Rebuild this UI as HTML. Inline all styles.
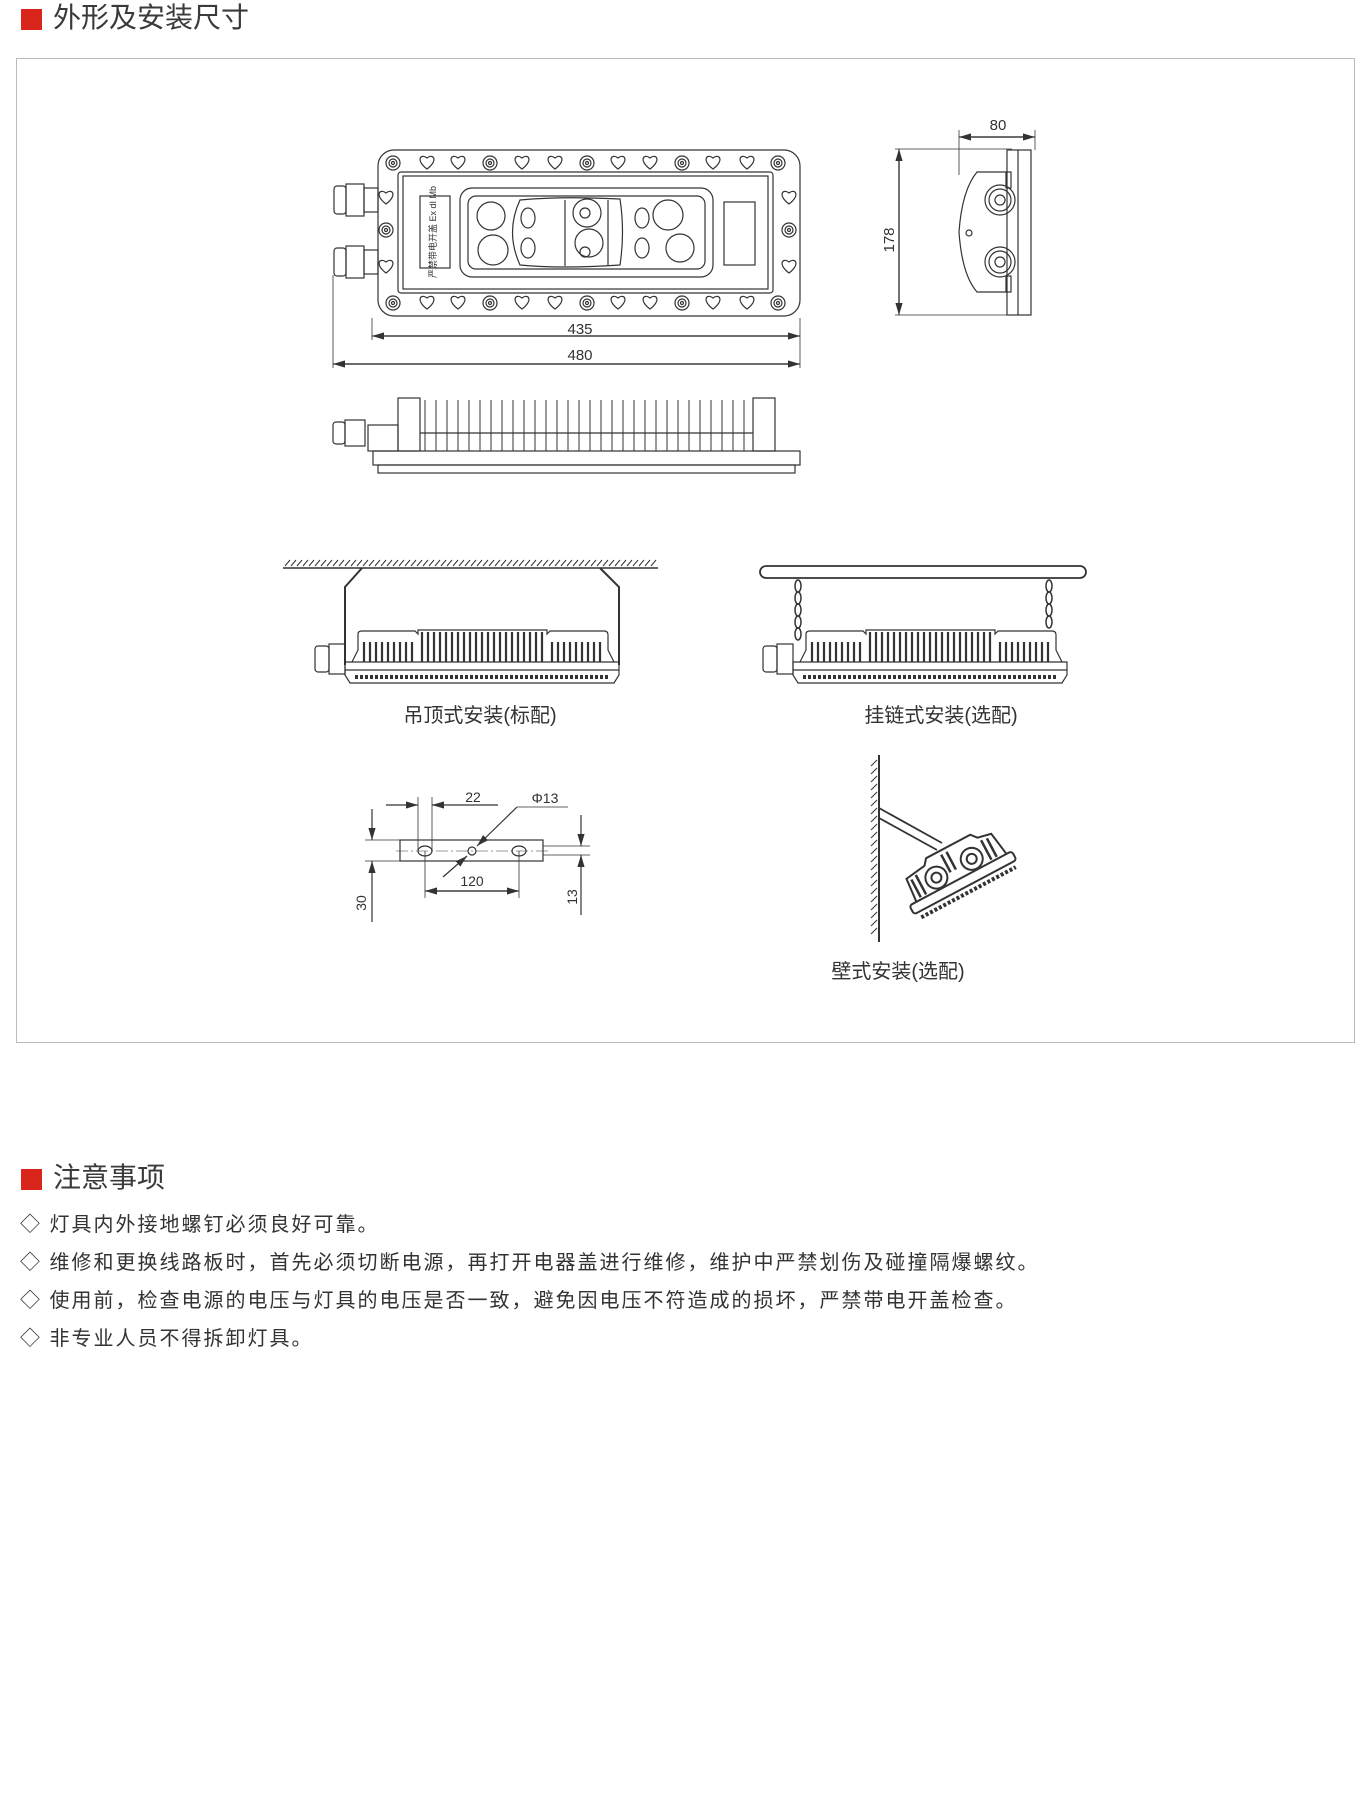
<!DOCTYPE html>
<html><head><meta charset="utf-8">
<style>
html,body{margin:0;padding:0;background:#fff;}
body{width:1371px;height:1799px;position:relative;overflow:hidden;font-family:"Liberation Sans","Noto Sans CJK SC",sans-serif;}
.sq{position:absolute;background:#d9251c;}
.h{position:absolute;font-size:28px;color:#3a3a3a;line-height:1;}
.box{position:absolute;left:16px;top:58px;width:1339px;height:985px;border:1px solid #bbb;box-sizing:border-box;}
.ln{position:absolute;left:20px;font-size:20px;color:#333;letter-spacing:2px;line-height:1;white-space:nowrap;}
svg{position:absolute;left:0;top:0;}
</style></head><body>
<div class="sq" style="left:21px;top:9px;width:21px;height:21px;"></div>
<div class="h" style="left:53px;top:4px;">外形及安装尺寸</div>
<div class="box"></div>

<svg width="1371" height="1100" viewBox="0 0 1371 1100" fill="none" stroke="#333" stroke-width="1.2" font-family="Liberation Sans, Noto Sans CJK SC, sans-serif">
<defs>
<marker id="a" markerWidth="10" markerHeight="6" refX="10" refY="3" orient="auto"><path d="M0,0 L10,3 L0,6z" fill="#333" stroke="none"/></marker>
<g id="heart"><path d="M0,6 C-12,-3 -6,-10 0,-5 C6,-10 12,-3 0,6z"/></g>
<g id="screw"><circle r="7"/><circle r="4"/><circle r="1.5"/></g>
<g id="lamp">
 <rect x="315" y="646" width="14" height="26" rx="3"/>
 <rect x="329" y="644" width="16" height="30"/>
 <path d="M345,662 L345,675 L350,683 L614,683 L619,675 L619,662z"/>
 <line x1="345" y1="670" x2="619" y2="670"/>
 <path d="M352,662 L358,650 L358,634 Q358,631 362,631 L415,631 L418,634 L418,630 L547,630 L547,634 L550,631 L604,631 Q608,631 608,635 L608,650 L614,662"/>
 <g stroke-width="2.2">
  <path d="M364,642 V662 M370,642 V662 M376,642 V662 M382,642 V662 M388,642 V662 M394,642 V662 M400,642 V662 M406,642 V662 M412,642 V662
   M422,632 V662 M428,632 V662 M434,632 V662 M440,632 V662 M446,632 V662 M452,632 V662 M458,632 V662 M464,632 V662 M470,632 V662 M476,632 V662 M482,632 V662 M488,632 V662 M494,632 V662 M500,632 V662 M506,632 V662 M512,632 V662 M518,632 V662 M524,632 V662 M530,632 V662 M536,632 V662 M542,632 V662
   M552,642 V662 M558,642 V662 M564,642 V662 M570,642 V662 M576,642 V662 M582,642 V662 M588,642 V662 M594,642 V662 M600,642 V662"/>
  <path d="M355,677 H610" stroke-dasharray="3,2" stroke-width="4"/>
 </g>
</g>
</defs>

<!-- top view -->
<rect x="378" y="150" width="422" height="166" rx="16"/>
<rect x="398" y="172" width="375" height="121" rx="3"/>
<rect x="403" y="176" width="365" height="113"/>
<rect x="460" y="188" width="253" height="89" rx="12"/>
<rect x="468" y="196" width="237" height="73" rx="8"/>
<rect x="420" y="196" width="30" height="72"/>
<text x="436" y="232" font-size="9" fill="#333" stroke="none" transform="rotate(-90 436 232)" text-anchor="middle">严禁带电开盖 Ex dI Mb</text>
<rect x="724" y="202" width="31" height="63"/>
<path d="M520,200 Q560,196 620,199 Q625,232 620,265 Q560,269 520,265 Q505,232 520,200z"/>
<line x1="565" y1="200" x2="565" y2="266"/><line x1="608" y1="200" x2="608" y2="266"/>
<circle cx="491" cy="216" r="14"/><circle cx="493" cy="250" r="15"/>
<circle cx="587" cy="213" r="14"/><circle cx="589" cy="243" r="14"/>
<ellipse cx="528" cy="218" rx="7" ry="10"/><ellipse cx="528" cy="248" rx="7" ry="10"/>
<ellipse cx="642" cy="218" rx="7" ry="10"/><ellipse cx="642" cy="248" rx="7" ry="10"/>
<circle cx="585" cy="213" r="5"/><circle cx="585" cy="252" r="5"/>
<circle cx="668" cy="215" r="15"/><circle cx="680" cy="248" r="14"/>
<g>
<use href="#screw" x="393" y="163"/><use href="#heart" x="427" y="163"/><use href="#heart" x="458" y="163"/><use href="#screw" x="490" y="163"/><use href="#heart" x="522" y="163"/><use href="#heart" x="555" y="163"/><use href="#screw" x="587" y="163"/><use href="#heart" x="618" y="163"/><use href="#heart" x="650" y="163"/><use href="#screw" x="682" y="163"/><use href="#heart" x="713" y="163"/><use href="#heart" x="747" y="163"/><use href="#screw" x="778" y="163"/>
<use href="#screw" x="393" y="303"/><use href="#heart" x="427" y="303"/><use href="#heart" x="458" y="303"/><use href="#screw" x="490" y="303"/><use href="#heart" x="522" y="303"/><use href="#heart" x="555" y="303"/><use href="#screw" x="587" y="303"/><use href="#heart" x="618" y="303"/><use href="#heart" x="650" y="303"/><use href="#screw" x="682" y="303"/><use href="#heart" x="713" y="303"/><use href="#heart" x="747" y="303"/><use href="#screw" x="778" y="303"/>
<use href="#heart" x="386" y="198"/><use href="#screw" x="386" y="230"/><use href="#heart" x="386" y="267"/>
<use href="#heart" x="789" y="198"/><use href="#screw" x="789" y="230"/><use href="#heart" x="789" y="267"/>
</g>
<rect x="334" y="186" width="12" height="28" rx="3"/><rect x="346" y="184" width="18" height="32"/><rect x="364" y="188" width="14" height="24"/>
<rect x="334" y="248" width="12" height="28" rx="3"/><rect x="346" y="246" width="18" height="32"/><rect x="364" y="250" width="14" height="24"/>
<!-- dims -->
<line x1="372" y1="318" x2="372" y2="340" stroke-width="0.8"/><line x1="333" y1="275" x2="333" y2="368" stroke-width="0.8"/><line x1="800" y1="318" x2="800" y2="368" stroke-width="0.8"/>
<line x1="380" y1="336" x2="800" y2="336" marker-end="url(#a)"/><line x1="790" y1="336" x2="372" y2="336" marker-end="url(#a)"/>
<line x1="343" y1="364" x2="800" y2="364" marker-end="url(#a)"/><line x1="790" y1="364" x2="333" y2="364" marker-end="url(#a)"/>
<text x="580" y="334" font-size="15" fill="#333" stroke="none" text-anchor="middle">435</text>
<text x="580" y="360" font-size="15" fill="#333" stroke="none" text-anchor="middle">480</text>

<!-- heatsink side -->
<rect x="373" y="451" width="427" height="14"/>
<rect x="378" y="465" width="417" height="8"/>
<rect x="398" y="398" width="22" height="53"/><rect x="753" y="398" width="22" height="53"/>
<rect x="368" y="425" width="30" height="26"/>
<rect x="333" y="422" width="12" height="22" rx="3"/><rect x="345" y="420" width="20" height="26"/>
<path stroke-width="1" d="M425,400V451 M436,400V451 M447,400V451 M458,400V451 M469,400V451 M480,400V451 M491,400V451 M502,400V451 M513,400V451 M524,400V451 M535,400V451 M546,400V451 M557,400V451 M568,400V451 M579,400V451 M590,400V451 M601,400V451 M612,400V451 M623,400V451 M634,400V451 M645,400V451 M656,400V451 M667,400V451 M678,400V451 M689,400V451 M700,400V451 M711,400V451 M722,400V451 M733,400V451 M744,400V451"/>
<line x1="420" y1="433" x2="753" y2="433"/>

<!-- side view -->
<line x1="959" y1="130" x2="959" y2="175" stroke-width="0.8"/><line x1="1035" y1="130" x2="1035" y2="150" stroke-width="0.8"/>
<line x1="969" y1="137" x2="1035" y2="137" marker-end="url(#a)"/><line x1="1025" y1="137" x2="959" y2="137" marker-end="url(#a)"/>
<text x="998" y="130" font-size="15" fill="#333" stroke="none" text-anchor="middle">80</text>
<line x1="895" y1="149" x2="1012" y2="149" stroke-width="0.8"/><line x1="895" y1="315" x2="1012" y2="315" stroke-width="0.8"/>
<line x1="899" y1="159" x2="899" y2="315" marker-end="url(#a)"/><line x1="899" y1="305" x2="899" y2="149" marker-end="url(#a)"/>
<text x="894" y="240" font-size="15" fill="#333" stroke="none" text-anchor="middle" transform="rotate(-90 894 240)">178</text>
<rect x="1007" y="150" width="24" height="165"/>
<line x1="1018" y1="150" x2="1018" y2="315"/>
<path d="M1007,172 L977,172 Q962,190 959,232 Q962,275 977,292 L1007,292"/>
<rect x="1006" y="172" width="5" height="16"/><rect x="1006" y="276" width="5" height="16"/>
<circle cx="1000" cy="200" r="15"/><circle cx="1000" cy="200" r="11"/><circle cx="1000" cy="200" r="5"/>
<circle cx="1000" cy="262" r="15"/><circle cx="1000" cy="262" r="11"/><circle cx="1000" cy="262" r="5"/>
<circle cx="969" cy="233" r="3"/>

<!-- ceiling mount -->
<line x1="283" y1="568" x2="658" y2="568" stroke-width="1.5"/>
<path stroke-width="1" d="M285,566 l5,-6 M291,566 l5,-6 M297,566 l5,-6 M303,566 l5,-6 M309,566 l5,-6 M315,566 l5,-6 M321,566 l5,-6 M327,566 l5,-6 M333,566 l5,-6 M339,566 l5,-6 M345,566 l5,-6 M351,566 l5,-6 M357,566 l5,-6 M363,566 l5,-6 M369,566 l5,-6 M375,566 l5,-6 M381,566 l5,-6 M387,566 l5,-6 M393,566 l5,-6 M399,566 l5,-6 M405,566 l5,-6 M411,566 l5,-6 M417,566 l5,-6 M423,566 l5,-6 M429,566 l5,-6 M435,566 l5,-6 M441,566 l5,-6 M447,566 l5,-6 M453,566 l5,-6 M459,566 l5,-6 M465,566 l5,-6 M471,566 l5,-6 M477,566 l5,-6 M483,566 l5,-6 M489,566 l5,-6 M495,566 l5,-6 M501,566 l5,-6 M507,566 l5,-6 M513,566 l5,-6 M519,566 l5,-6 M525,566 l5,-6 M531,566 l5,-6 M537,566 l5,-6 M543,566 l5,-6 M549,566 l5,-6 M555,566 l5,-6 M561,566 l5,-6 M567,566 l5,-6 M573,566 l5,-6 M579,566 l5,-6 M585,566 l5,-6 M591,566 l5,-6 M597,566 l5,-6 M603,566 l5,-6 M609,566 l5,-6 M615,566 l5,-6 M621,566 l5,-6 M627,566 l5,-6 M633,566 l5,-6 M639,566 l5,-6 M645,566 l5,-6 M651,566 l5,-6"/>
<path stroke-width="2" d="M362,568 L345,587 L345,665 M600,568 L619,587 L619,665"/>
<use href="#lamp"/>
<text x="480" y="722" font-size="20" fill="#333" stroke="none" text-anchor="middle">吊顶式安装(标配)</text>

<!-- chain mount -->
<rect x="760" y="566" width="326" height="12" rx="6" stroke-width="1.8"/>
<g stroke-width="1.5">
<ellipse cx="798" cy="586" rx="3" ry="6"/><ellipse cx="798" cy="598" rx="3" ry="6"/><ellipse cx="798" cy="610" rx="3" ry="6"/><ellipse cx="798" cy="622" rx="3" ry="6"/><ellipse cx="798" cy="634" rx="3" ry="6"/>
<ellipse cx="1049" cy="586" rx="3" ry="6"/><ellipse cx="1049" cy="598" rx="3" ry="6"/><ellipse cx="1049" cy="610" rx="3" ry="6"/><ellipse cx="1049" cy="622" rx="3" ry="6"/>
</g>
<use href="#lamp" x="448"/>
<text x="941" y="722" font-size="20" fill="#333" stroke="none" text-anchor="middle">挂链式安装(选配)</text>

<!-- bracket -->
<rect x="400" y="840" width="143" height="21"/>
<ellipse cx="425" cy="851" rx="7" ry="5"/><ellipse cx="519" cy="851" rx="7" ry="5"/><circle cx="472" cy="851" r="4"/>
<line x1="396" y1="851" x2="548" y2="851" stroke-width="0.6" stroke-dasharray="12,3,2,3"/>
<line x1="418" y1="797" x2="418" y2="851" stroke-width="0.8"/><line x1="432" y1="797" x2="432" y2="851" stroke-width="0.8"/>
<line x1="386" y1="805" x2="418" y2="805" marker-end="url(#a)"/><line x1="498" y1="805" x2="432" y2="805" marker-end="url(#a)"/>
<text x="473" y="802" font-size="14" fill="#333" stroke="none" text-anchor="middle">22</text>
<line x1="568" y1="807" x2="517" y2="807" stroke-width="0.8"/><line x1="517" y1="807" x2="477" y2="846" marker-end="url(#a)"/><line x1="443" y1="877" x2="467" y2="856" marker-end="url(#a)"/>
<text x="545" y="803" font-size="14" fill="#333" stroke="none" text-anchor="middle">Φ13</text>
<line x1="365" y1="840" x2="400" y2="840" stroke-width="0.8"/><line x1="365" y1="861" x2="400" y2="861" stroke-width="0.8"/>
<line x1="372" y1="809" x2="372" y2="840" marker-end="url(#a)"/><line x1="372" y1="922" x2="372" y2="861" marker-end="url(#a)"/>
<text x="366" y="903" font-size="14" fill="#333" stroke="none" text-anchor="middle" transform="rotate(-90 366 903)">30</text>
<line x1="425" y1="851" x2="425" y2="898" stroke-width="0.8"/><line x1="519" y1="851" x2="519" y2="898" stroke-width="0.8"/>
<line x1="435" y1="891" x2="519" y2="891" marker-end="url(#a)"/><line x1="509" y1="891" x2="425" y2="891" marker-end="url(#a)"/>
<text x="472" y="886" font-size="14" fill="#333" stroke="none" text-anchor="middle">120</text>
<line x1="543" y1="846" x2="590" y2="846" stroke-width="0.8"/><line x1="543" y1="855" x2="590" y2="855" stroke-width="0.8"/>
<line x1="581" y1="815" x2="581" y2="846" marker-end="url(#a)"/><line x1="581" y1="915" x2="581" y2="855" marker-end="url(#a)"/>
<text x="577" y="897" font-size="14" fill="#333" stroke="none" text-anchor="middle" transform="rotate(-90 577 897)">13</text>

<!-- wall mount -->
<line x1="879" y1="755" x2="879" y2="942" stroke-width="2"/>
<path stroke-width="1" d="M877,760 l-6,6 M877,768 l-6,6 M877,776 l-6,6 M877,784 l-6,6 M877,792 l-6,6 M877,800 l-6,6 M877,808 l-6,6 M877,816 l-6,6 M877,824 l-6,6 M877,832 l-6,6 M877,840 l-6,6 M877,848 l-6,6 M877,856 l-6,6 M877,864 l-6,6 M877,872 l-6,6 M877,880 l-6,6 M877,888 l-6,6 M877,896 l-6,6 M877,904 l-6,6 M877,912 l-6,6 M877,920 l-6,6 M877,928 l-6,6"/>
<path stroke-width="1.8" d="M879,808 L942,843 M879,818 L937,850"/>
<g transform="rotate(-28 955 870)" stroke-width="2">
 <rect x="898" y="880" width="116" height="10" rx="3"/>
 <path d="M906,880 L908,855 L930,852 L935,846 L985,846 L990,852 L1004,855 L1008,880"/>
 <circle cx="935" cy="868" r="11"/><circle cx="935" cy="868" r="5"/>
 <circle cx="975" cy="868" r="11"/><circle cx="975" cy="868" r="5"/>
 <path stroke-width="2.5" d="M912,858V878 M918,856V878 M950,850V870 M956,850V870 M992,856V878 M998,857V878"/>
 <path d="M903,896H1010" stroke-dasharray="3,2" stroke-width="4"/>
</g>
<text x="898" y="978" font-size="20" fill="#333" stroke="none" text-anchor="middle">壁式安装(选配)</text>
</svg>

<div class="sq" style="left:21px;top:1169px;width:21px;height:21px;"></div>
<div class="h" style="left:53px;top:1164px;">注意事项</div>
<div class="ln" style="top:1215px;">◇ 灯具内外接地螺钉必须良好可靠。</div>
<div class="ln" style="top:1253px;">◇ 维修和更换线路板时，首先必须切断电源，再打开电器盖进行维修，维护中严禁划伤及碰撞隔爆螺纹。</div>
<div class="ln" style="top:1291px;">◇ 使用前，检查电源的电压与灯具的电压是否一致，避免因电压不符造成的损坏，严禁带电开盖检查。</div>
<div class="ln" style="top:1329px;">◇ 非专业人员不得拆卸灯具。</div>
</body></html>
